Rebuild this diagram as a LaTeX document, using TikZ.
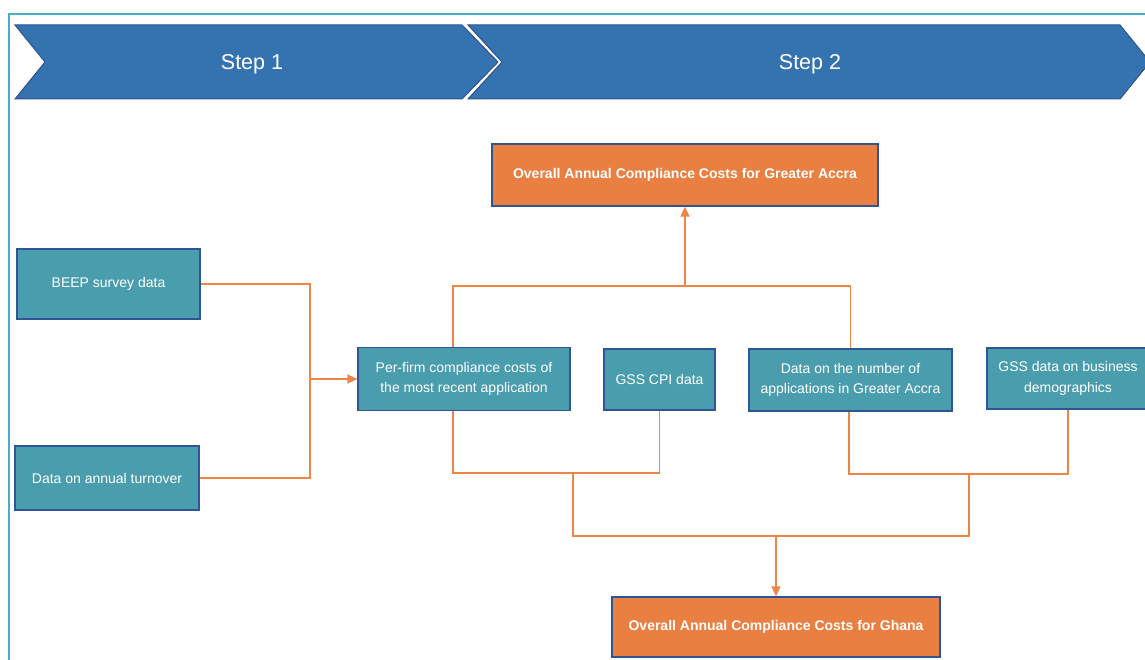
\documentclass[tikz,border=0pt]{standalone}
\usepackage{fontspec}
\setmainfont{Liberation Sans}
\usetikzlibrary{arrows.meta}

\definecolor{stepblue}{RGB}{53,114,176}
\definecolor{stepedge}{RGB}{47,82,143}
\definecolor{datateal}{RGB}{74,157,173}
\definecolor{boxedge}{RGB}{47,85,151}
\definecolor{costorange}{RGB}{233,127,65}
\definecolor{linkorange}{RGB}{237,133,70}
\definecolor{frameteal}{RGB}{75,172,198}

\begin{document}
\begin{tikzpicture}[x=1pt, y=-1pt,
    data/.style={rectangle, draw=boxedge, line width=1.2pt, fill=datateal, text=white, align=center, inner sep=0pt, font=\fontsize{14}{20.5}\selectfont},
    cost/.style={rectangle, draw=boxedge, line width=1.2pt, fill=costorange, text=white, inner sep=0pt, font=\fontsize{14}{17}\selectfont\bfseries},
    steptext/.style={text=white, font=\fontsize{21.5}{25}\selectfont},
    link/.style={draw=linkorange, line width=1.5pt},
    linkarrow/.style={link, -{Triangle[length=10pt, width=9pt]}}]
    \useasboundingbox (0,0) rectangle (1145,660);

    % frame and step banners
    \draw[frameteal, line width=2pt] (9,670) -- (9,14) -- (1160,14);
    \filldraw[fill=stepblue, draw=stepedge, line width=1pt] (15,25) -- (462,25) -- (498,62) -- (462,99) -- (15,99) -- (45,62) -- cycle;
    \filldraw[fill=stepblue, draw=stepedge, line width=1pt] (468,25) -- (1120,25) -- (1150,62) -- (1120,99) -- (468,99) -- (502,62) -- cycle;
    \node (step1) [steptext] at (252,64) {Step 1};
    \node (step2) [steptext] at (810,64) {Step 2};

    \node (beep) [data, minimum width=183, minimum height=70] at (108.5,284) {BEEP survey data};
    \node (turnover) [data, minimum width=184, minimum height=64] at (107,478) {Data on annual turnover};
    \node (perfirm) [data, minimum width=212, minimum height=63] at (464,379) {Per-firm compliance costs of\\the most recent application};
    \node (cpi) [data, minimum width=111, minimum height=61] at (659.5,379.5) {GSS CPI data};
    \node (apps) [data, minimum width=203, minimum height=62] at (850.5,380) {Data on the number of\\applications in Greater Accra};
    \node (demog) [data, minimum width=162, minimum height=61] at (1068,378.5) {GSS data on business\\demographics};
    \node (accra) [cost, minimum width=386, minimum height=62] at (685,175) {Overall Annual Compliance Costs for Greater Accra};
    \node (ghana) [cost, minimum width=328, minimum height=60] at (776,627) {Overall Annual Compliance Costs for Ghana};

    % step 1 inputs
    \coordinate (inmerge) at (310,379);
    \draw[link] (beep.east) -| (inmerge) |- (turnover.east);
    \draw[linkarrow] (inmerge) -- (perfirm.west);

    % greater accra
    \coordinate (upmerge) at (685,286);
    \draw[link] ([xshift=-11pt]perfirm.north) |- (upmerge) -| (apps.north);
    \draw[linkarrow] (upmerge) -- (accra.south);

    % ghana
    \coordinate (leftpair) at (573,473);
    \coordinate (rightpair) at (969,474);
    \coordinate (downmerge) at (776,536);
    \draw[link] ([xshift=-11pt]perfirm.south) |- (leftpair) -| (cpi.south);
    \draw[link] ([xshift=-1.5pt]apps.south) |- (rightpair) -| (demog.south);
    \draw[link] (leftpair) |- (downmerge) -| (rightpair);
    \draw[linkarrow] (downmerge) -- (ghana.north);
\end{tikzpicture}
\end{document}
